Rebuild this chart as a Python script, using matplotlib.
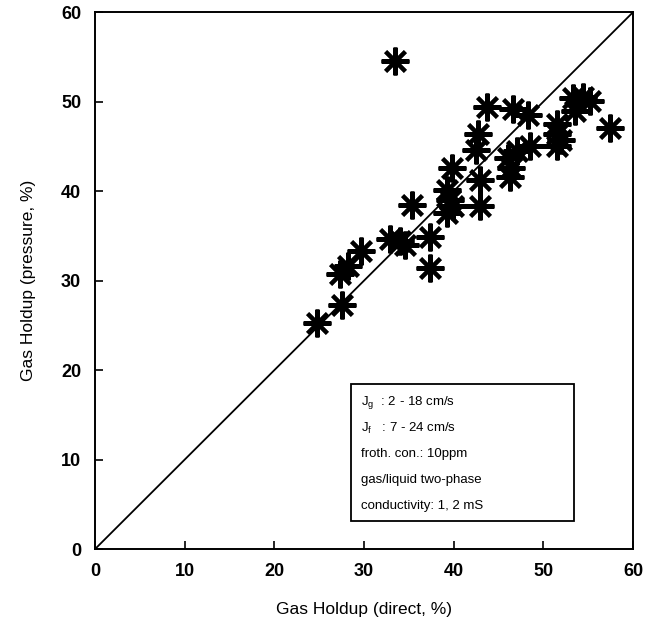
import numpy as np
import matplotlib
matplotlib.use("Agg")
import matplotlib.pyplot as plt
from matplotlib.patches import Rectangle

plt.rcParams['font.family'] = ['Liberation Sans', 'DejaVu Sans']

# gas holdup, direct measurement vs. pressure method (%)
holdup_direct = [24.7, 27.5, 27.3, 28.2, 29.7, 32.9, 34.0, 34.6, 35.3, 37.3,
                 37.3, 39.2, 39.6, 39.2, 39.9, 39.8, 42.9, 42.9, 42.5, 42.7,
                 43.7, 46.6, 48.3, 46.1, 46.4, 46.3, 47.0, 48.5, 51.5, 52.0,
                 51.5, 51.5, 53.5, 53.3, 54.4, 55.2, 57.4, 33.4]
holdup_pressure = [25.3, 27.3, 30.7, 31.6, 33.3, 34.6, 34.4, 34.0, 38.5, 34.9,
                   31.4, 37.5, 39.0, 40.1, 38.3, 42.6, 38.3, 41.2, 44.6, 46.4,
                   49.4, 49.2, 48.5, 43.7, 42.6, 41.6, 44.5, 45.0, 46.4, 45.7,
                   45.0, 47.5, 49.0, 50.4, 50.5, 50.1, 47.0, 54.5]

conditions = [r"J$_{\mathregular{g}}$  : 2 - 18 cm/s",
              r"J$_{\mathregular{f}}$   : 7 - 24 cm/s",
              "froth. con.: 10ppm",
              "gas/liquid two-phase",
              "conductivity: 1, 2 mS"]

ticks = np.arange(0, 61, 10)

fig = plt.figure(figsize=(6.47, 6.25), dpi=100)
ax = fig.add_axes([0.147, 0.1216, 0.8315, 0.859])

# 1:1 line
ax.plot([0, 60], [0, 60], color='black', lw=1.3, zorder=2)

ax.plot(holdup_direct, holdup_pressure, linestyle='none',
        marker=(8, 2, 0), ms=20, mew=2.9, mec='black', zorder=3)

# box with operating conditions
ax.add_patch(Rectangle((28.5, 3.1), 24.9, 15.3, facecolor='white',
                       edgecolor='black', lw=1.3, zorder=4))
for i, line in enumerate(conditions):
    ax.text(29.6, 16.4 - i * 2.9, line, fontsize=9.5, va='center',
            ha='left', zorder=5)

ax.set_xlim(0, 60)
ax.set_ylim(0, 60)
ax.set_xticks(ticks)
ax.set_yticks(ticks)
ax.tick_params(direction='in', length=6, width=1.2, labelsize=13, pad=10)
for lab in ax.get_xticklabels() + ax.get_yticklabels():
    lab.set_fontweight('bold')
for sp in ax.spines.values():
    sp.set_linewidth(1.4)

ax.set_xlabel("Gas Holdup (direct, %)", fontsize=12.5, labelpad=16)
ax.set_ylabel("Gas Holdup (pressure, %)", fontsize=12.5, labelpad=18)

fig.savefig("out.png", dpi=100)
